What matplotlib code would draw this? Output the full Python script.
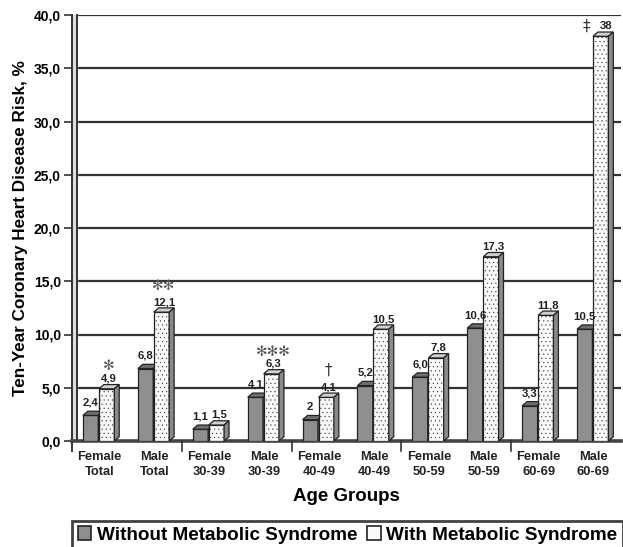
#!/usr/bin/env python3
"""Ten-year CHD risk by age group, with and without metabolic syndrome (pseudo-3D bars)."""
import matplotlib
matplotlib.use("Agg")
import matplotlib.pyplot as plt
from matplotlib.patches import Polygon, Rectangle, Patch

plt.rcParams["font.family"] = ["Liberation Sans", "DejaVu Sans"]
plt.rcParams["font.weight"] = "bold"
plt.rcParams["hatch.color"] = "#ececec"
plt.rcParams["hatch.linewidth"] = 0.25

groups = ["Female\nTotal", "Male\nTotal", "Female\n30-39", "Male\n30-39", "Female\n40-49",
          "Male\n40-49", "Female\n50-59", "Male\n50-59", "Female\n60-69", "Male\n60-69"]
without_ms = [2.4, 6.8, 1.1, 4.1, 2.0, 5.2, 6.0, 10.6, 3.3, 10.5]
with_ms = [4.9, 12.1, 1.5, 6.3, 4.1, 10.5, 7.8, 17.3, 11.8, 38.0]
without_lbl = ["2,4", "6,8", "1,1", "4,1", "2", "5,2", "6,0", "10,6", "3,3", "10,5"]
with_lbl = ["4,9", "12,1", "1,5", "6,3", "4,1", "10,5", "7,8", "17,3", "11,8", "38"]
yticks = [0, 5, 10, 15, 20, 25, 30, 35, 40]

W, H = 623, 547
fig = plt.figure(figsize=(W / 100, H / 100), dpi=100)
ax = fig.add_axes([72 / W, (H - 441) / H, (621 - 72) / W, 426 / H])
ax.set_xlim(0, 10)
ax.set_ylim(0, 40)
for s in ax.spines.values():
    s.set_visible(False)

DX, DY = 0.09, 0.4   # depth offsets of the 3D faces
BW = 0.28

# back wall grid, left wall and floor
ax.hlines(yticks[1:], DX, 10, color="#333333", lw=1.6, zorder=1)
ax.fill_betweenx([0, 40], 0, DX, color="#dddddd", zorder=1)
ax.plot([0, 0], [-0.9, 40], color="#333333", lw=1.4, clip_on=False, zorder=2)
ax.plot([DX, DX], [0, 40], color="#333333", lw=1.4, clip_on=False, zorder=2)
ax.plot([0, 10], [0, 0], color="#444444", lw=2.6, clip_on=False, zorder=2)
for x in [2, 4, 6, 8]:
    ax.plot([x, x], [0, -0.9], color="#333333", lw=1.2, clip_on=False, zorder=2)

ax.set_yticks(yticks)
ax.set_yticklabels([f"{v:.1f}".replace(".", ",") for v in yticks], fontweight="bold")
ax.tick_params(axis="y", length=6, width=1.2, color="#333333", labelsize=10, pad=2)
ax.set_xticks([i + 0.5 for i in range(10)])
ax.set_xticklabels(groups, fontsize=9.3, linespacing=1.35, fontweight="bold", color="#222222")
ax.tick_params(axis="x", length=0, pad=7)
ax.set_ylabel("Ten-Year Coronary Heart Disease Risk, %", fontsize=12.3, fontweight="bold", labelpad=4)
ax.set_xlabel("Age Groups", fontsize=13.5, fontweight="bold", labelpad=7)


def bar3d(x, h, front, top, side, hatch=None):
    ax.add_patch(Rectangle((x, 0), BW, h, fc=front, ec="#222222", lw=0.9, hatch=hatch, zorder=3))
    ax.add_patch(Polygon([(x, h), (x + BW, h), (x + BW + DX, h + DY), (x + DX, h + DY)],
                         fc=top, ec="#222222", lw=0.9, zorder=3))
    ax.add_patch(Polygon([(x + BW, 0), (x + BW + DX, DY), (x + BW + DX, h + DY), (x + BW, h)],
                         fc=side, ec="#222222", lw=0.9, zorder=3))


for i in range(10):
    xg, xw = i + 0.2, i + 0.49
    bar3d(xg, without_ms[i], "#8f8f8f", "#6e6e6e", "#5a5a5a")
    bar3d(xw, with_ms[i], "#fafafa", "#d0d0d0", "#8a8a8a", hatch="....")
    ax.text(xg + BW / 2, without_ms[i] + 1.2, without_lbl[i], ha="center", va="center",
            fontsize=8.2, fontweight="bold", color="#222222", zorder=4)
    if i == 9:
        ax.text(xw + BW / 2 + 0.1, with_ms[i] + 0.95, with_lbl[i], ha="center", va="center",
                fontsize=8.2, fontweight="bold", color="#222222", zorder=4)
    else:
        ax.text(xw + (BW + DX) / 2, with_ms[i] + 0.95, with_lbl[i], ha="center", va="center",
                fontsize=8.2, fontweight="bold", color="#222222", zorder=4)

# significance markers
star = dict(ha="center", va="center", fontsize=10, color="#555555", family="DejaVu Sans", zorder=4)
ax.text(0.49 + (BW + DX) / 2, 7.0, "\u273b", **star)
ax.text(1.49 + (BW + DX) / 2, 14.6, "\u273b\u273b", **star)
ax.text(3.49 + (BW + DX) / 2, 8.4, "\u273b\u273b\u273b", **star)
ax.text(4.49 + (BW + DX) / 2, 6.6, "\u2020", ha="center", va="center", fontsize=11,
        color="#333333", family="DejaVu Sans", fontweight="normal")
ax.text(9.37, 38.9, "\u2021", ha="center", va="center", fontsize=11,
        color="#333333", family="DejaVu Sans", fontweight="normal")

handles = [Patch(fc="#8f8f8f", ec="#222222", lw=1.2, label="Without Metabolic Syndrome"),
           Patch(fc="#fafafa", ec="#222222", lw=1.2, label="With Metabolic Syndrome")]
leg = fig.legend(handles=handles, loc="lower left", bbox_to_anchor=(72 / W, -0.004),
                 ncol=2, frameon=True, fancybox=False, borderaxespad=0,
                 handlelength=0.7, handleheight=0.7, handletextpad=0.3, columnspacing=0.55,
                 borderpad=0.3, prop={"weight": "bold", "size": 13.6})
leg.get_frame().set_edgecolor("#111111")
leg.get_frame().set_linewidth(2)

fig.savefig("out.png", dpi=100)
